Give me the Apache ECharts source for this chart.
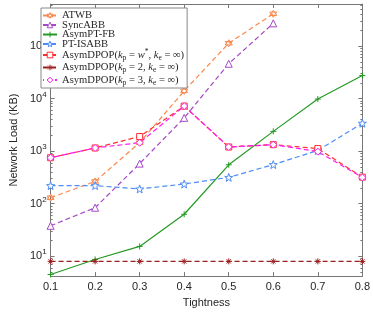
<!DOCTYPE html>
<html>
<head>
<meta charset="utf-8">
<script src="https://cdn.jsdelivr.net/npm/echarts@6/dist/echarts.min.js"></script>
<style>html,body{margin:0;padding:0;background:#fff;}#c{width:373px;height:313px;}</style>
</head>
<body>
<div id="c"></div>
<script>
const tightness = ['0.1','0.2','0.3','0.4','0.5','0.6','0.7','0.8'];
const atwb      = [130, 265, 1450, 14000, 113000, 410000];
const syncabb   = [38, 84, 580, 4300, 46000, 270000];
const asymptfb  = [4.5, 8.7, 15.4, 63, 550, 2380, 9800, 27500];
const ptisabb   = [221, 221, 191, 237, 317, 555, 1030, 3400];
const dpopW     = [750, 1150, 1900, 7200, 1200, 1330, 1120, 320];
const dpop2     = [8, 8, 8, 8, 8, 8, 8, 8];
const dpop3     = [750, 1150, 1450, 7200, 1200, 1330, 980, 316];
const majorTicks = [10, 100, 1000, 10000, 100000];
const minorTicks = [5,6,7,8,9,20,30,40,50,60,70,80,90,200,300,400,500,600,700,800,900,
  2000,3000,4000,5000,6000,7000,8000,9000,20000,30000,40000,50000,60000,70000,80000,90000,
  200000,300000,400000,500000,600000];

const yMin = 4.2, yMax = 630000;
const axisColor = '#777';
const textColor = '#262626';

const hexagram = 'path://M0,-10L8.66,5L-8.66,5Z M0,10L8.66,-5L-8.66,-5Z';
const plusSym = 'path://M0,-10L0,10M-10,0L10,0';
const starSym = 'path://M0,-10L2.35,-3.24L9.51,-3.09L3.8,1.24L5.88,8.09L0,4L-5.88,8.09L-3.8,1.24L-9.51,-3.09L-2.35,-3.24Z';
const asterSym = 'path://M0,-10L0,10M-10,0L10,0M-7,-7L7,7M-7,7L7,-7';

const seriesDefs = [
  { id: 'ATWB', data: atwb, color: '#f98a4f', symbol: hexagram, size: 7, dashed: true, hollow: true },
  { id: 'SyncABB', data: syncabb, color: '#a649c8', symbol: 'triangle', size: 7, dashed: true, hollow: true },
  { id: 'AsymPT-FB', data: asymptfb, color: '#229a22', symbol: plusSym, size: 6, dashed: false, hollow: false },
  { id: 'PT-ISABB', data: ptisabb, color: '#4d8cf7', symbol: starSym, size: 8, dashed: true, hollow: true },
  { id: 'dpopW', data: dpopW, color: '#ff2e2e', symbol: 'rect', size: 6, dashed: true, hollow: true },
  { id: 'dpop2', data: dpop2, color: '#9c1e1e', symbol: asterSym, size: 6, dashed: true, hollow: false },
  { id: 'dpop3', data: dpop3, color: '#ff1cf0', symbol: 'diamond', size: 7, dashed: true, hollow: true }
];

function mk(d) {
  return {
    name: d.id, type: 'line', data: d.data, yAxisIndex: 0, xAxisIndex: 0,
    symbol: d.symbol, symbolSize: d.size, showSymbol: true,
    lineStyle: { color: d.color, width: 1.2, type: d.dashed ? [5, 3] : 'solid' },
    itemStyle: { color: d.hollow ? '#fff' : d.color, borderColor: d.color, borderWidth: 1 },
    emphasis: { disabled: true }, animation: false
  };
}

const legendNames = {
  'ATWB': 'ATWB',
  'SyncABB': 'SyncABB',
  'AsymPT-FB': 'AsymPT-FB',
  'PT-ISABB': 'PT-ISABB',
  'dpopW': 'AsymDPOP({i|k}{sub|p} = {i|w}{sup|*}, {i|k}{sub|e} = ∞)',
  'dpop2': 'AsymDPOP({i|k}{sub|p} = 2, {i|k}{sub|e} = ∞)',
  'dpop3': 'AsymDPOP({i|k}{sub|p} = 3, {i|k}{sub|e} = ∞)'
};

function yAx(pos, ticks, len, showLine, showLabel) {
  return {
    type: 'log', min: yMin, max: yMax, position: pos,
    axisLine: { show: showLine, lineStyle: { color: axisColor, width: 1 } },
    axisTick: { show: true, inside: true, length: len, customValues: ticks, lineStyle: { color: axisColor } },
    axisLabel: showLabel ? {
      show: true, customValues: majorTicks, margin: 4,
      formatter: function (v) { return '{b|10}{s|' + Math.round(Math.log10(v)) + '}'; },
      rich: {
        b: { fontSize: 11, fontFamily: 'Liberation Sans', color: textColor },
        s: { fontSize: 8, fontFamily: 'Liberation Sans', color: textColor, padding: [0, 0, 8, 0] }
      }
    } : { show: false },
    splitLine: { show: false },
    minorTick: { show: false },
    name: showLabel ? 'Network Load (KB)' : '',
    nameLocation: 'middle', nameGap: 23,
    nameTextStyle: { fontSize: 11, fontFamily: 'Liberation Sans', color: textColor }
  };
}

const option = {
  backgroundColor: '#fff',
  animation: false,
  grid: { left: 34, right: 10, top: 4, bottom: 33, containLabel: false },
  xAxis: [
    {
      type: 'category', data: tightness, boundaryGap: false, position: 'bottom',
      axisLine: { show: true, lineStyle: { color: axisColor } },
      axisTick: { show: true, inside: true, length: 4, alignWithLabel: true, lineStyle: { color: axisColor } },
      axisLabel: { fontSize: 11, fontFamily: 'Liberation Sans', color: textColor, margin: 5 },
      name: 'Tightness', nameLocation: 'middle', nameGap: 20,
      nameTextStyle: { fontSize: 11, fontFamily: 'Liberation Sans', color: textColor }
    },
    {
      type: 'category', data: tightness, boundaryGap: false, position: 'top',
      axisLine: { show: true, lineStyle: { color: axisColor } },
      axisTick: { show: true, inside: true, length: 4, alignWithLabel: true, lineStyle: { color: axisColor } },
      axisLabel: { show: false }
    }
  ],
  yAxis: [
    yAx('left', majorTicks, 4, true, true),
    yAx('left', minorTicks, 2, false, false),
    yAx('right', majorTicks, 4, true, false),
    yAx('right', minorTicks, 2, false, false)
  ],
  legend: {
    orient: 'vertical', left: 41, top: 8,
    padding: [2, 3, 1, 1], itemGap: -1.5, itemWidth: 14, itemHeight: 7,
    backgroundColor: '#fff', borderColor: '#888', borderWidth: 1,
    data: seriesDefs.map(function (d) {
      return {
        name: d.id,
        itemStyle: { color: d.hollow ? '#fff' : d.color, borderColor: d.color, borderWidth: 1 }
      };
    }),
    formatter: function (n) { return legendNames[n]; },
    textStyle: {
      fontSize: 10.6, fontFamily: 'Liberation Serif', color: textColor, lineHeight: 10,
      rich: {
        i: { fontSize: 10.6, fontStyle: 'italic', fontFamily: 'Liberation Serif', color: textColor, lineHeight: 10 },
        sub: { fontSize: 7.5, fontFamily: 'Liberation Serif', color: textColor, lineHeight: 4, padding: [6, 0, 0, 0] },
        sup: { fontSize: 7.5, fontFamily: 'Liberation Serif', color: textColor, lineHeight: 4, padding: [0, 0, 5, 0] }
      }
    }
  },
  series: seriesDefs.map(mk)
};
option.series[6].lineStyle.dashOffset = 4;
const chart = echarts.init(document.getElementById('c'), null, { renderer: 'canvas' });
chart.setOption(option);
</script>
</body>
</html>
